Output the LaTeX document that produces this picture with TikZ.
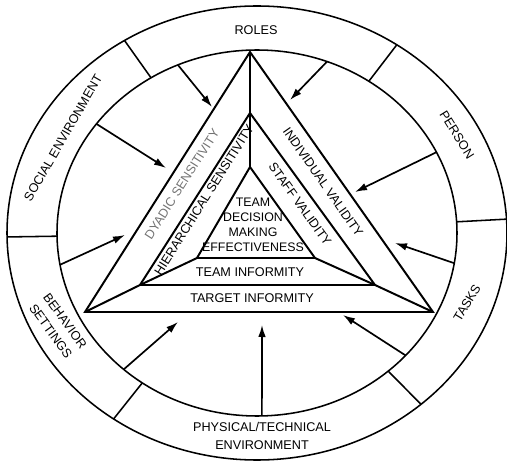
\documentclass[tikz,border=0pt]{standalone}
\usepackage{fontspec}
\setmainfont{Liberation Sans}
\usetikzlibrary{arrows.meta}

\begin{document}
\begin{tikzpicture}[lbl/.style={font=\fontsize{9}{12.6}\selectfont, inner sep=1pt, align=center},
                    ring/.style={line width=1.1pt},
                    tri/.style={line width=1.4pt, line join=miter},
                    infl/.style={line width=1.2pt, -{Latex[length=3mm,width=1.9mm]}}]
\useasboundingbox (-6.425,-5.725) rectangle (6.25,5.825);
% the two rings and their dividers
\draw[ring] (0,0) ellipse [x radius=6.25, y radius=5.675];
\draw[ring] (0,0) ellipse [x radius=5, y radius=4.575];
\foreach \a in {3.5,56,122,181,235,311}
  \draw[ring] ({5*cos(\a)},{4.575*sin(\a)}) -- ({6.25*cos(\a)},{5.675*sin(\a)});
% triangle corners
\coordinate (oA) at (-0.175,4.525);
\coordinate (oL) at (-4.3,-1.975);
\coordinate (oR) at (4.4,-1.975);
\coordinate (mA) at (-0.175,3.0);
\coordinate (mL) at (-2.925,-1.3);
\coordinate (mR) at (2.95,-1.3);
\coordinate (iA) at (-0.175,1.65);
\coordinate (iL) at (-1.5,-0.625);
\coordinate (iR) at (1.45,-0.625);
\draw[tri] (oA) -- (oL) -- (oR) -- cycle;
\draw[tri] (mA) -- (mL) -- (mR) -- cycle;
\draw[tri] (iA) -- (iL) -- (iR) -- cycle;
\draw[tri] (oA) -- (mA) -- (iA);
\draw[tri] (oL) -- (mL) -- (iL);
\draw[tri] (oR) -- (mR) -- (iR);
% influences from the ring
\foreach \i/\a/\tx/\ty in {1/113.3/-1.125/3.15, 2/69.5/0.825/3.325, 3/143.4/-2.275/1.625,
                           4/26.2/2.45/1.025, 5/190/-3.3/-0.05, 6/350.5/3.45/-0.25,
                           7/228.2/-1.975/-2.225, 8/271.4/0.125/-2.3, 9/318/2.15/-2.05} {
  \coordinate (s\i) at ({5*cos(\a)},{4.575*sin(\a)});
  \coordinate (t\i) at (\tx,\ty);
  \draw[infl] (s\i) -- (t\i);
}
% ring labels
\node[lbl] (roles) at (-0.025,5.075) {ROLES};
\node[lbl, rotate=-58] (person) at (5.0,2.45) {PERSON};
\node[lbl, rotate=59] (tasks) at (5.25,-1.75) {TASKS};
\node[lbl] (phys) at (0.125,-5.075) {PHYSICAL/TECHNICAL\\ENVIRONMENT};
\node[lbl, rotate=60] (social) at (-4.85,2.375) {SOCIAL ENVIRONMENT};
\node[lbl, rotate=-54] (behav) at (-4.975,-2.325) {BEHAVIOR\\SETTINGS};
% triangle labels
\node[lbl, rotate=57.5, text=black!55] (dyad) at (-1.875,1.225) {DYADIC SENSITIVITY};
\node[lbl, rotate=57.8] (hier) at (-1.325,0.825) {HIERARCHICAL SENSITIVITY};
\node[lbl, rotate=-55] (indiv) at (1.65,1.275) {INDIVIDUAL VALIDITY};
\node[lbl, rotate=-54.5] (staff) at (1.075,0.725) {STAFF VALIDITY};
\node[lbl, font=\fontsize{8.8}{10.7}\selectfont] (tdme) at (-0.1,0.2) {TEAM\\DECISION\\MAKING\\EFFECTIVENESS};
\node[lbl] (tinf) at (-0.175,-0.975) {TEAM INFORMITY};
\node[lbl] (tgt) at (-0.125,-1.625) {TARGET INFORMITY};
\end{tikzpicture}
\end{document}
